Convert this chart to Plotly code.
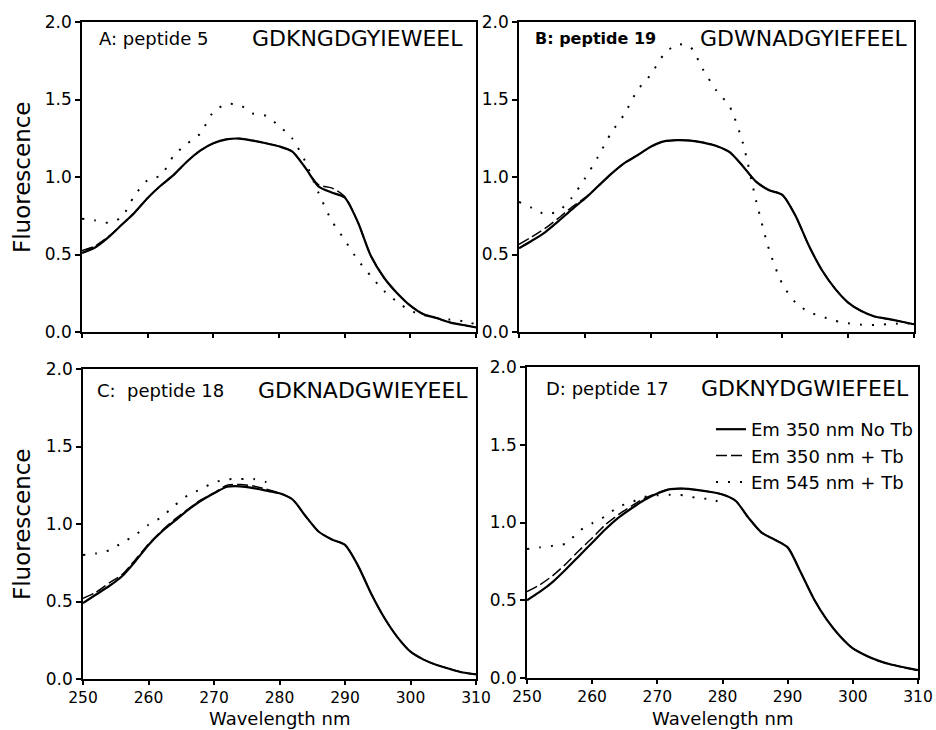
import plotly.graph_objects as go

# Excitation wavelength grid (nm)
wavelength = list(range(250, 311, 2))

# Panel A: peptide 5
a_em350_no_tb = [0.51, 0.545, 0.61, 0.69, 0.77, 0.865, 0.945, 1.015, 1.10, 1.17, 1.217,
                 1.243, 1.248, 1.235, 1.218, 1.198, 1.165, 1.06, 0.94, 0.90, 0.868,
                 0.71, 0.49, 0.35, 0.25, 0.17, 0.115, 0.09, 0.062, 0.045, 0.03]
a_em350_tb = [0.525, 0.555, 0.615, 0.69, 0.77, 0.865, 0.945, 1.015, 1.10, 1.17, 1.217,
              1.243, 1.248, 1.235, 1.218, 1.198, 1.165, 1.06, 0.95, 0.93, 0.875,
              0.71, 0.49, 0.35, 0.25, 0.17, 0.115, 0.09, 0.062, 0.045, 0.03]
a_em545_tb = [0.73, 0.72, 0.705, 0.74, 0.88, 0.98, 1.01, 1.14, 1.215, 1.28, 1.42,
              1.47, 1.465, 1.41, 1.395, 1.33, 1.25, 1.10, 0.90, 0.72, 0.594,
              0.465, 0.36, 0.265, 0.195, 0.137, 0.11, 0.09, 0.08, 0.07, 0.05]

# Panel B: peptide 19
b_em350_no_tb = [0.54, 0.59, 0.645, 0.715, 0.79, 0.86, 0.94, 1.02, 1.09, 1.14, 1.195,
                 1.23, 1.238, 1.235, 1.222, 1.20, 1.16, 1.07, 0.97, 0.915, 0.885,
                 0.75, 0.56, 0.40, 0.28, 0.19, 0.135, 0.10, 0.085, 0.068, 0.05]
b_em350_tb = [0.565, 0.615, 0.67, 0.735, 0.805, 0.865, 0.94, 1.02, 1.09, 1.14, 1.195,
              1.23, 1.238, 1.235, 1.222, 1.20, 1.16, 1.07, 0.97, 0.915, 0.885,
              0.75, 0.56, 0.40, 0.28, 0.19, 0.135, 0.10, 0.085, 0.068, 0.05]
b_em545_tb = [0.84, 0.80, 0.76, 0.78, 0.865, 0.99, 1.13, 1.285, 1.405, 1.56, 1.66,
              1.79, 1.855, 1.84, 1.69, 1.557, 1.455, 1.22, 0.85, 0.53, 0.31,
              0.19, 0.13, 0.10, 0.072, 0.056, 0.047, 0.046, 0.05, 0.055, 0.055]

# Panel C: peptide 18
c_em350_no_tb = [0.49, 0.545, 0.60, 0.665, 0.76, 0.865, 0.95, 1.02, 1.09, 1.15, 1.198,
                 1.24, 1.243, 1.232, 1.215, 1.198, 1.158, 1.05, 0.95, 0.90, 0.865,
                 0.73, 0.55, 0.395, 0.27, 0.176, 0.125, 0.09, 0.065, 0.042, 0.03]
c_em350_tb = [0.52, 0.56, 0.62, 0.675, 0.77, 0.87, 0.955, 1.03, 1.095, 1.155, 1.20,
              1.25, 1.255, 1.245, 1.225, 1.20, 1.158, 1.05, 0.95, 0.90, 0.865,
              0.73, 0.55, 0.395, 0.27, 0.176, 0.125, 0.09, 0.065, 0.042, 0.03]
c_wavelength_545 = list(range(250, 279, 2))
c_em545_tb = [0.80, 0.81, 0.83, 0.88, 0.93, 0.995, 1.045, 1.12, 1.185, 1.225, 1.268,
              1.288, 1.29, 1.29, 1.27]

# Panel D: peptide 17
d_em350_no_tb = [0.50, 0.555, 0.62, 0.70, 0.785, 0.87, 0.955, 1.03, 1.09, 1.145, 1.187,
                 1.215, 1.218, 1.21, 1.198, 1.18, 1.14, 1.03, 0.935, 0.89, 0.84,
                 0.68, 0.51, 0.375, 0.27, 0.19, 0.145, 0.11, 0.085, 0.067, 0.05]
d_em350_tb = [0.555, 0.60, 0.66, 0.735, 0.82, 0.90, 0.985, 1.05, 1.105, 1.155, 1.19,
              1.215, 1.218, 1.21, 1.198, 1.18, 1.14, 1.03, 0.935, 0.89, 0.84,
              0.68, 0.51, 0.375, 0.27, 0.19, 0.145, 0.11, 0.085, 0.067, 0.05]
d_wavelength_545 = list(range(250, 281, 2))
d_em545_tb = [0.83, 0.84, 0.85, 0.865, 0.945, 0.995, 1.04, 1.10, 1.13, 1.165, 1.175,
              1.178, 1.175, 1.158, 1.15, 1.127]

panel_labels = ["A: peptide 5", "<b>B: peptide 19</b>", "C:  peptide 18", "D: peptide 17"]
label_sizes = [18, 16, 18, 18]
sequences = ["GDKNGDGYIEWEEL", "GDWNADGYIEFEEL", "GDKNADGWIEYEEL", "GDKNYDGWIEFEEL"]
series_names = ["Em 350 nm No Tb", "Em 350 nm + Tb", "Em 545 nm + Tb"]
x_ticks = [250, 260, 270, 280, 290, 300, 310]
y_ticks = [0.0, 0.5, 1.0, 1.5, 2.0]

W, H = 936, 730
FONT = "DejaVu Sans"

# Plot-area boxes in pixels: (left, right, top, bottom)
boxes = [(82, 476, 22, 332), (519, 914, 22, 332),
         (83, 476, 369, 679), (527, 918, 367, 678)]

panel_data = [
    (wavelength, a_em350_no_tb, wavelength, a_em350_tb, wavelength, a_em545_tb),
    (wavelength, b_em350_no_tb, wavelength, b_em350_tb, wavelength, b_em545_tb),
    (wavelength, c_em350_no_tb, wavelength, c_em350_tb, c_wavelength_545, c_em545_tb),
    (wavelength, d_em350_no_tb, wavelength, d_em350_tb, d_wavelength_545, d_em545_tb),
]

styles = [
    dict(color="black", width=2.2, dash="solid"),
    dict(color="black", width=1.5, dash="11px,4px"),
    dict(color="black", width=2, dash="2px,10px"),
]

fig = go.Figure()
layout = {}
annotations = []

for i, (box, data) in enumerate(zip(boxes, panel_data)):
    n = "" if i == 0 else str(i + 1)
    xa, ya = "x" + n, "y" + n
    left, right, top, bottom = box
    for k in range(3):
        xs, ys = data[2 * k], data[2 * k + 1]
        fig.add_trace(go.Scatter(
            x=xs, y=ys, xaxis=xa, yaxis=ya, mode="lines",
            line=dict(shape="spline", smoothing=0.7, **styles[k]),
            name=series_names[k], showlegend=(i == 3),
        ))
    common = dict(showline=True, mirror=True, linecolor="black", linewidth=1.5,
                  ticks="outside", tickwidth=1.5, tickcolor="black",
                  showgrid=False, zeroline=False, automargin=False)
    layout["xaxis" + n] = dict(
        domain=[left / W, right / W], range=[250, 310], anchor=ya,
        tickvals=x_ticks, showticklabels=(i >= 2), ticklen=4,
        tickfont=dict(family=FONT, size=15.5, color="black"), **common)
    layout["yaxis" + n] = dict(
        domain=[1 - bottom / H, 1 - top / H], range=[0, 2], anchor=xa,
        tickvals=y_ticks, tickformat=".1f", ticklen=5,
        tickfont=dict(family=FONT, size=17, color="black"), **common)

    label_y = 0.948 if i < 2 else 0.93
    label_x = [0.038, 0.035, 0.03, 0.043][i]
    annotations.append(dict(
        text=panel_labels[i], xref=xa + " domain", yref=ya + " domain",
        x=label_x, y=label_y, xanchor="left", yanchor="middle", showarrow=False,
        font=dict(family=FONT, size=label_sizes[i], color="black")))
    seq_x = [0.972, 0.987, 0.985, 0.982][i]
    annotations.append(dict(
        text=sequences[i], xref=xa + " domain", yref=ya + " domain",
        x=seq_x, y=label_y, xanchor="right", yanchor="middle", showarrow=False,
        font=dict(family=FONT, size=22, color="black")))

# Axis titles
for top, bottom in [(22, 332), (369, 679)]:
    annotations.append(dict(
        text="Fluorescence", xref="paper", yref="paper",
        x=22 / W, y=1 - (top + bottom) / 2 / H, textangle=-90,
        xanchor="center", yanchor="middle", showarrow=False,
        font=dict(family=FONT, size=23, color="black")))
for left, right in [(83, 476), (527, 918)]:
    annotations.append(dict(
        text="Wavelength nm", xref="paper", yref="paper",
        x=(left + right) / 2 / W, y=0.5 / H,
        xanchor="center", yanchor="bottom", showarrow=False, borderpad=0,
        font=dict(family=FONT, size=18, color="black")))

fig.update_layout(
    width=W, height=H, margin=dict(l=0, r=0, t=0, b=0),
    paper_bgcolor="white", plot_bgcolor="white",
    annotations=annotations,
    legend=dict(x=918 / W, xanchor="right", y=1 - 411 / H, yanchor="top",
                bgcolor="rgba(0,0,0,0)", borderwidth=0, tracegroupgap=0,
                font=dict(family=FONT, size=18, color="black")),
    **layout,
)

fig.write_html("out.html")
